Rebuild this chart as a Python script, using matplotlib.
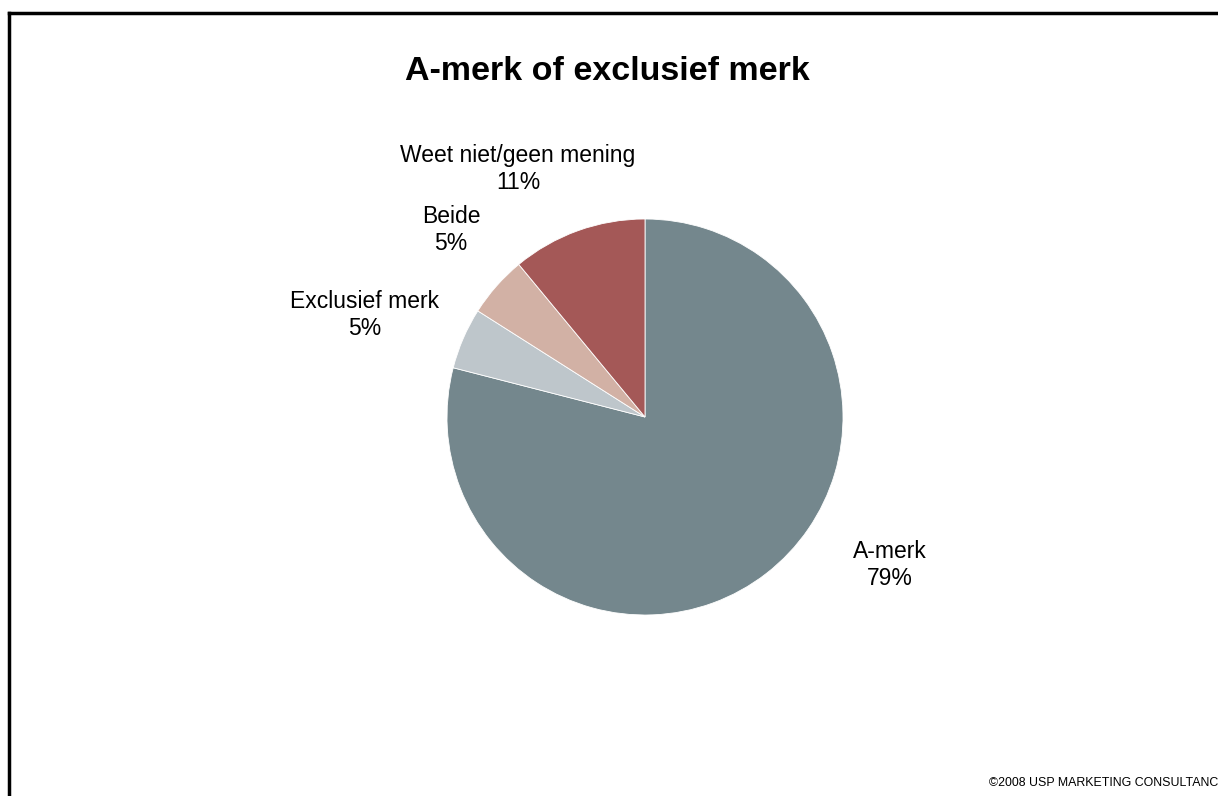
import matplotlib.pyplot as plt
from matplotlib.lines import Line2D

plt.rcParams['font.family'] = ['Liberation Sans', 'DejaVu Sans']

# data
categories = ["A-merk", "Exclusief merk", "Beide", "Weet niet/geen mening"]
values = [79, 5, 5, 11]
colors = ["#74878D", "#BEC6CB", "#D2B1A5", "#A45857"]

# label anchor points (pixels, y measured from top)
label_pos = [(890, 565), (365, 315), (451, 230), (518, 169)]

W, H = 1218, 796
fig = plt.figure(figsize=(W / 100, H / 100), dpi=100)
ax = fig.add_axes([0, 0, 1, 1])

ax.pie(values, colors=colors, startangle=90, counterclock=False,
       center=(645, H - 417), radius=198, frame=True,
       wedgeprops=dict(edgecolor="white", linewidth=0.6))

ax.set_xlim(0, W)
ax.set_ylim(0, H)
ax.set_aspect("equal")
ax.axis("off")

for name, v, (x, y) in zip(categories, values, label_pos):
    ax.text(x, H - y, f"{name}\n{v}%", ha="center", va="center",
            fontsize=16.5, linespacing=1.2)

ax.text(607, H - 71, "A-merk of exclusief merk", ha="center", va="center",
        fontsize=24.5, fontweight="bold")

ax.text(989, H - 783, "\u00a92008 USP MARKETING CONSULTANCY", ha="left",
        va="center", fontsize=8.9)

# frame lines (left and top)
fig.add_artist(Line2D([9 / W, 9 / W], [0, 1 - 13 / H], color="black",
                      linewidth=2.5, transform=fig.transFigure))
fig.add_artist(Line2D([9 / W, 1], [1 - 13 / H, 1 - 13 / H], color="black",
                      linewidth=2.5, transform=fig.transFigure))

fig.savefig("out.png", dpi=100)
